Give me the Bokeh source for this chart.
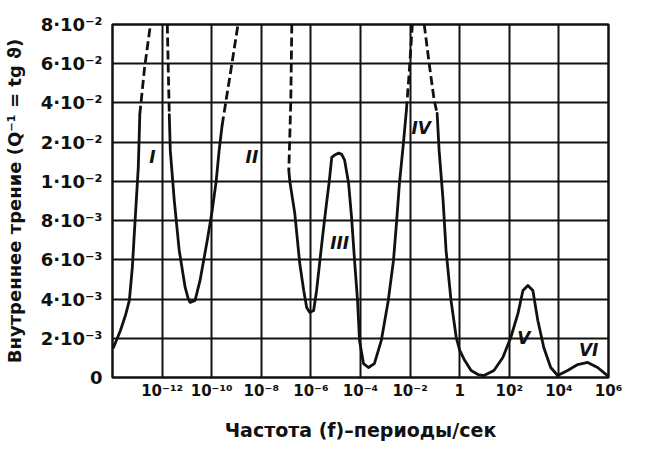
from bokeh.plotting import figure
from bokeh.models import FixedTicker
from bokeh.core.properties import value
from bokeh.embed import file_html
from bokeh.resources import INLINE
import numpy as np

# ---- data -------------------------------------------------------------
# y axis: tick values (non-uniform, equally spaced on the chart)
Y_TICK_VALUES = [0, 2e-3, 4e-3, 6e-3, 8e-3, 1e-2, 2e-2, 4e-2, 6e-2, 8e-2]
Y_TICK_LABELS = ["0", "2·10⁻³", "4·10⁻³", "6·10⁻³", "8·10⁻³",
                 "1·10⁻²", "2·10⁻²", "4·10⁻²", "6·10⁻²", "8·10⁻²"]
X_TICK_EXP = [-12, -10, -8, -6, -4, -2, 0, 2, 4, 6]
X_TICK_LABELS = ["10⁻¹²", "10⁻¹⁰", "10⁻⁸", "10⁻⁶", "10⁻⁴", "10⁻²", "1",
                 "10²", "10⁴", "10⁶"]

# solid segments: log10(f) and Q^-1
s1_lf = [-13.96, -13.68, -13.48, -13.32, -13.20, -13.12, -13.04, -12.96, -12.92, -12.90]
s1_q = [1.53e-3, 2.4e-3, 3.16e-3, 3.93e-3, 5.61e-3, 7.35e-3, 9.03e-3, 1.36e-2, 2.44e-2, 3.4e-2]

s2_lf = [-11.71, -11.67, -11.51, -11.31, -11.07, -10.95, -10.87, -10.67, -10.47,
         -10.18, -9.98, -9.82, -9.70, -9.58]
s2_q = [3.4e-2, 1.79e-2, 9.03e-3, 6.48e-3, 4.59e-3, 4.03e-3, 3.83e-3, 3.93e-3,
        4.95e-3, 6.99e-3, 8.52e-3, 1.0e-2, 1.79e-2, 2.86e-2]

s3_lf = [-6.89, -6.85, -6.65, -6.45, -6.29, -6.17, -6.05, -5.89, -5.77, -5.65,
         -5.50, -5.38, -5.26, -5.16, -5.02, -4.88, -4.76, -4.64, -4.48, -4.36,
         -4.24, -4.12, -4.04, -3.88, -3.68, -3.44, -3.16, -2.88, -2.67, -2.55,
         -2.43, -2.27, -2.15]
s3_q = [1.28e-2, 1.0e-2, 8.37e-3, 5.82e-3, 4.44e-3, 3.57e-3, 3.32e-3, 3.42e-3,
        4.44e-3, 5.82e-3, 7.5e-3, 8.78e-3, 1.0e-2, 1.61e-2, 1.68e-2, 1.72e-2,
        1.69e-2, 1.54e-2, 9.9e-3, 8.16e-3, 5.97e-3, 3.93e-3, 1.89e-3, 7.1e-4,
        5.1e-4, 7.1e-4, 1.89e-3, 3.93e-3, 5.97e-3, 7.86e-3, 9.9e-3, 1.97e-2,
        3.62e-2]

s4_lf = [-0.91, -0.83, -0.67, -0.55, -0.35, -0.14, 0.00, 0.18, 0.46, 0.74, 0.98,
         1.38, 1.74, 2.06, 2.35, 2.55, 2.75, 2.95, 3.15, 3.39, 3.67, 3.95, 4.35,
         4.76, 5.16, 5.56, 5.96, 6.0]
s4_q = [3.47e-2, 1.79e-2, 9.03e-3, 6.48e-3, 3.93e-3, 2.04e-3, 1.38e-3, 9.2e-4,
        3.6e-4, 1.5e-4, 1.0e-4, 3.6e-4, 1.02e-3, 2.04e-3, 3.27e-3, 4.44e-3,
        4.69e-3, 4.44e-3, 2.91e-3, 1.53e-3, 5.1e-4, 1.0e-4, 3.6e-4, 6.6e-4,
        7.7e-4, 5.1e-4, 1.0e-4, 5e-5]

# dashed (extrapolated) segments
d1_lf = [-12.90, -12.71, -12.47]
d1_q = [3.4e-2, 5.76e-2, 8.0e-2]
d2_lf = [-11.79, -11.75, -11.71]
d2_q = [8.0e-2, 5.66e-2, 3.4e-2]
d3_lf = [-9.58, -9.26, -8.94]
d3_q = [2.86e-2, 5.4e-2, 8.0e-2]
d4_lf = [-6.77, -6.81, -6.89]
d4_q = [8.0e-2, 4.14e-2, 1.28e-2]
d5_lf = [-2.15, -2.03, -1.91]
d5_q = [3.62e-2, 5.66e-2, 8.0e-2]
d6_lf = [-1.43, -1.23, -1.03, -0.91]
d6_q = [8.0e-2, 6.0e-2, 4.14e-2, 3.47e-2]

# peak labels
peak_names = ["I", "II", "III", "IV", "V", "VI"]
peak_lf = [-12.39, -8.38, -4.84, -1.55, 2.59, 5.2]
peak_q = [1.61e-2, 1.61e-2, 6.84e-3, 2.7e-2, 2.0e-3, 1.4e-3]


def ymap(q):
    return np.interp(q, Y_TICK_VALUES, np.arange(len(Y_TICK_VALUES)))


def xmap(lf):
    return [10.0 ** v for v in lf]


FONT = "DejaVu Sans"

p = figure(width=640, height=448, x_axis_type="log",
           x_range=(1e-14, 1e6), y_range=(0, 9),
           output_backend="svg", toolbar_location=None,
           min_border_left=110, min_border_top=24,
           min_border_right=32, min_border_bottom=71)

# axes
x_ticks = [10.0 ** e for e in X_TICK_EXP]
p.xaxis.ticker = FixedTicker(ticks=x_ticks)
p.xaxis.major_label_overrides = {t: l for t, l in zip(x_ticks, X_TICK_LABELS)}
p.yaxis.ticker = FixedTicker(ticks=list(range(len(Y_TICK_VALUES))))
p.yaxis.major_label_overrides = {i: l for i, l in enumerate(Y_TICK_LABELS)}

for ax in (p.xaxis, p.yaxis):
    ax.axis_line_color = None
    ax.major_tick_line_color = None
    ax.minor_tick_line_color = None
    ax.major_label_text_font = FONT
    ax.major_label_text_font_style = "bold"
    ax.major_label_text_color = "#111111"
    ax.axis_label_text_font = FONT
    ax.axis_label_text_font_style = "bold"
    ax.axis_label_text_color = "#111111"

p.xaxis.major_label_text_font_size = "15px"
p.yaxis.major_label_text_font_size = "18px"
p.xaxis.axis_label_text_font_size = "19px"
p.yaxis.axis_label_text_font_size = "18px"
p.xaxis.major_label_standoff = -2
p.yaxis.major_label_standoff = 4
p.xaxis.axis_label = "Частота (f)–периоды/сек"
p.xaxis.axis_label_standoff = 16
p.yaxis.axis_label = "Внутреннее трение (Q⁻¹ = tg ϑ)"
p.yaxis.axis_label_standoff = 13

p.xgrid.grid_line_color = "#111111"
p.xgrid.grid_line_width = 2
p.ygrid.grid_line_color = "#111111"
p.ygrid.grid_line_width = 2
p.outline_line_color = "#111111"
p.outline_line_width = 2.5
p.background_fill_color = "white"
p.border_fill_color = "white"

for lf, q in [(s1_lf, s1_q), (s2_lf, s2_q), (s3_lf, s3_q), (s4_lf, s4_q)]:
    p.line(xmap(lf), ymap(q), line_color="#111111", line_width=2.8,
           line_join="round", line_cap="round")

for lf, q in [(d1_lf, d1_q), (d2_lf, d2_q), (d3_lf, d3_q),
              (d4_lf, d4_q), (d5_lf, d5_q), (d6_lf, d6_q)]:
    p.line(xmap(lf), ymap(q), line_color="#111111", line_width=2.8,
           line_dash="9 4")

p.text(x=xmap(peak_lf), y=ymap(peak_q), text=peak_names,
       text_font=value(FONT), text_font_style="bold italic",
       text_font_size="17px", text_color="#111111",
       text_align="center", text_baseline="middle")

open("out.html", "w").write(file_html(p, INLINE))
